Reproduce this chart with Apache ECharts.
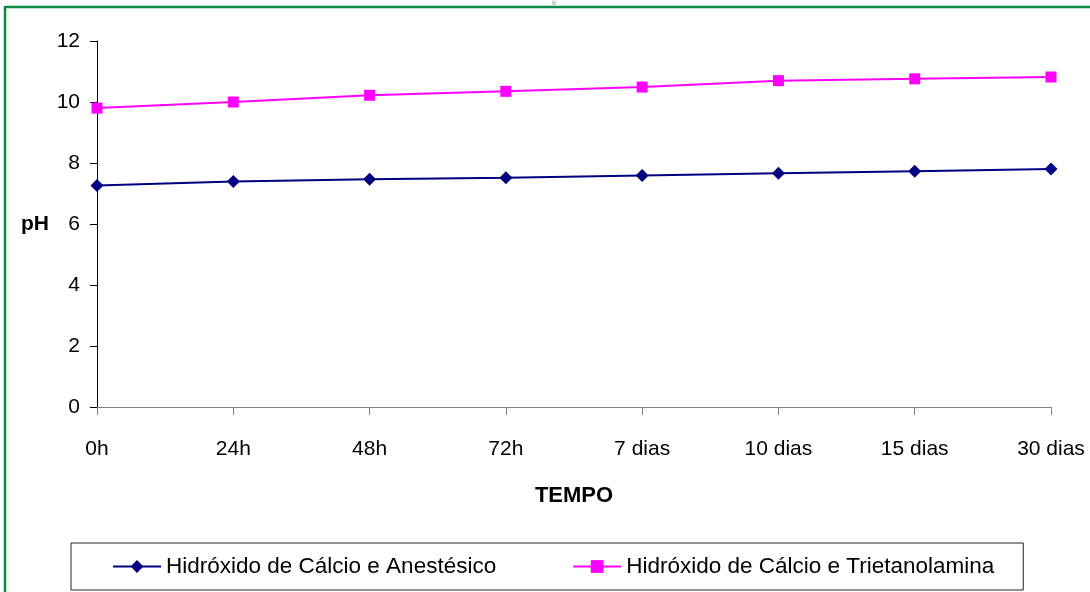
<!DOCTYPE html>
<html>
<head>
<meta charset="utf-8">
<script src="https://cdn.jsdelivr.net/npm/echarts@6/dist/echarts.min.js"></script>
<style>
  html, body { margin: 0; padding: 0; background: #fff; }
  #chart { width: 1090px; height: 592px; }
</style>
</head>
<body>
<div id="chart"></div>
<script>
const categories = ['0h', '24h', '48h', '72h', '7 dias', '10 dias', '15 dias', '30 dias'];
const anestesico = [7.26, 7.39, 7.47, 7.52, 7.59, 7.66, 7.73, 7.80];
const trietanolamina = [9.80, 10.00, 10.22, 10.35, 10.49, 10.70, 10.76, 10.82];
const seriesNames = ['Hidróxido de Cálcio e Anestésico', 'Hidróxido de Cálcio e Trietanolamina'];
const yTicks = { min: 0, max: 12, interval: 2 };

const FONT = "'Liberation Sans', Arial, sans-serif";
const chart = echarts.init(document.getElementById('chart'), null, { renderer: 'canvas' });

chart.setOption({
  animation: false,
  backgroundColor: '#ffffff',
  textStyle: { fontFamily: FONT },
  graphic: [
    { type: 'line', shape: { x1: 5, y1: 7, x2: 1090, y2: 7 }, style: { stroke: '#0b8a47', lineWidth: 2.5 } },
    { type: 'line', shape: { x1: 5, y1: 6, x2: 5, y2: 592 }, style: { stroke: '#0b8a47', lineWidth: 2.5 } },
    { type: 'circle', shape: { cx: 554, cy: 3, r: 2.5 }, style: { fill: '#c9dcc9' } }
  ],
  grid: {
    left: 97, right: 39, top: 41, bottom: 185,
    containLabel: false, outerBoundsMode: 'none'
  },
  legend: {
    data: seriesNames,
    left: 71, top: 543,
    padding: [12, 29, 12, 41],
    itemGap: 76,
    itemWidth: 48,
    itemHeight: 16,
    borderColor: '#222222',
    borderWidth: 1,
    borderRadius: 0,
    textStyle: { fontFamily: FONT, fontSize: 22.5, color: '#000' }
  },
  xAxis: {
    type: 'category',
    data: categories,
    boundaryGap: false,
    name: 'TEMPO',
    nameLocation: 'middle',
    nameGap: 78,
    nameTextStyle: { fontFamily: FONT, fontSize: 22, fontWeight: 'bold', color: '#000' },
    axisLine: { lineStyle: { color: '#808080', width: 1 } },
    axisTick: { show: true, length: 8, lineStyle: { color: '#808080' } },
    axisLabel: { fontFamily: FONT, fontSize: 21, color: '#000', margin: 32 },
    splitLine: { show: false }
  },
  yAxis: {
    type: 'value',
    min: yTicks.min, max: yTicks.max, interval: yTicks.interval,
    name: 'pH',
    nameLocation: 'middle',
    nameRotate: 0,
    nameGap: 48,
    nameTextStyle: { fontFamily: FONT, fontSize: 21, fontWeight: 'bold', color: '#000' },
    axisLine: { show: true, lineStyle: { color: '#000', width: 1 } },
    axisTick: { show: true, length: 7, lineStyle: { color: '#000' } },
    axisLabel: { fontFamily: FONT, fontSize: 21, color: '#000', margin: 17 },
    splitLine: { show: false }
  },
  series: [
    {
      name: seriesNames[0],
      type: 'line',
      data: anestesico,
      symbol: 'diamond',
      symbolSize: 13,
      itemStyle: { color: '#000080' },
      lineStyle: { color: '#000080', width: 2 }
    },
    {
      name: seriesNames[1],
      type: 'line',
      data: trietanolamina,
      symbol: 'rect',
      symbolSize: 11,
      itemStyle: { color: '#ff00ff' },
      lineStyle: { color: '#ff00ff', width: 2 }
    }
  ]
});
</script>
</body>
</html>
